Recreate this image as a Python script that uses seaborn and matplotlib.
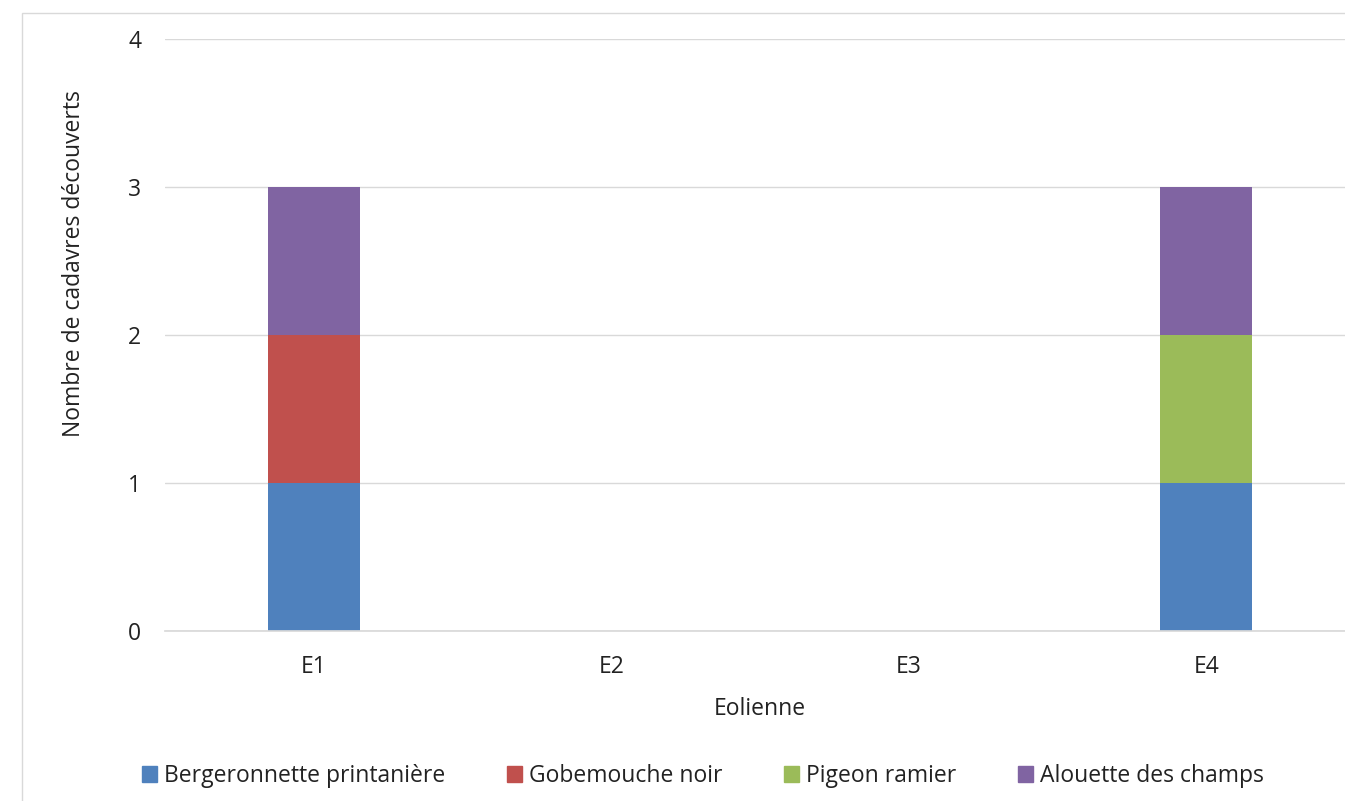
import matplotlib
matplotlib.use("Agg")
import matplotlib.pyplot as plt
import matplotlib.patches as mpatches
import seaborn as sns
import numpy as np

turbines = ["E1", "E2", "E3", "E4"]
species = ["Bergeronnette printanière", "Gobemouche noir", "Pigeon ramier", "Alouette des champs"]
bergeronnette = [1, 0, 0, 1]
gobemouche = [1, 0, 0, 0]
pigeon = [0, 0, 0, 1]
alouette = [1, 0, 0, 1]
series = [bergeronnette, gobemouche, pigeon, alouette]
colors = ["#4F81BD", "#C0504D", "#9BBB59", "#8064A2"]
yticks = [0, 1, 2, 3, 4]

sns.set_theme(style="white")
plt.rcParams["font.family"] = ["Open Sans", "DejaVu Sans"]

FS = 16.5
W, H = 1345, 801
fig = plt.figure(figsize=(W / 100, H / 100), dpi=100)
ax = fig.add_axes([165 / W, 1 - 631 / H, (1355 - 165) / W, (631 - 39) / H])

bottom = np.zeros(len(turbines))
for name, vals, c in zip(species, series, colors):
    sns.barplot(x=turbines, y=vals, bottom=bottom, color=c, width=0.31,
                linewidth=0, ax=ax, saturation=1)
    bottom = bottom + np.array(vals)

ax.set_ylim(0, 4)
ax.set_xlim(-0.5, 3.5)
ax.set_yticks(yticks)
ax.set_yticklabels([str(v) for v in yticks])
ax.yaxis.grid(True, color="#D9D9D9", linewidth=1)
ax.set_axisbelow(True)
for s in ax.spines.values():
    s.set_visible(False)
ax.spines["bottom"].set_visible(True)
ax.spines["bottom"].set_color("#D9D9D9")
ax.tick_params(axis="y", length=0, pad=17, labelsize=FS, labelcolor="#222222")
ax.tick_params(axis="x", length=0, pad=17, labelsize=FS, labelcolor="#222222")
ax.set_xlabel("Eolienne", fontsize=FS, color="#222222", labelpad=13)
ax.set_ylabel("Nombre de cadavres découverts", fontsize=FS, color="#222222")
ax.yaxis.set_label_coords(-0.066, 0.62)

handles = [mpatches.Patch(color=c, label=n) for n, c in zip(species, colors)]
fig.legend(handles=handles, loc="center", bbox_to_anchor=(703 / W, 1 - 776 / H), ncol=4,
           frameon=False, fontsize=FS, handlelength=0.65, handleheight=0.65,
           handletextpad=0.3, columnspacing=2.7, labelcolor="#222222")

frame = mpatches.Rectangle((22 / W, -0.05), 1.2, 1.05 - 13 / H, transform=fig.transFigure,
                           fill=False, edgecolor="#D9D9D9", linewidth=1)
fig.patches.append(frame)

fig.savefig("out.png", dpi=100)
